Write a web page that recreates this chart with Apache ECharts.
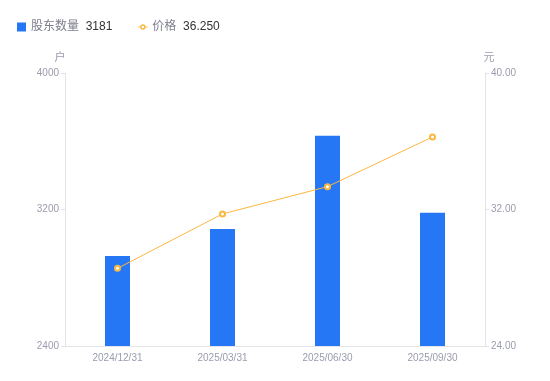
<!DOCTYPE html>
<html><head><meta charset="utf-8">
<script src="https://cdn.jsdelivr.net/npm/echarts@6/dist/echarts.min.js"></script>
<style>html,body{margin:0;padding:0;background:#fff}#c{width:550px;height:381px}</style>
</head><body><div id="c"></div>
<script>
const categories = ['2024/12/31','2025/03/31','2025/06/30','2025/09/30'];
const holders = [2928, 3086, 3632, 3181];
const prices = [28.55, 31.74, 33.34, 36.25];
const leftTicks = {min: 2400, max: 4000, interval: 800};
const rightTicks = {min: 24, max: 40, interval: 8};

const chart = echarts.init(document.getElementById('c'));
const lastVals = {'股东数量': String(holders[holders.length-1]), '价格': prices[prices.length-1].toFixed(3)};
const axisLabelColor = '#9a9cae';
const axisLineColor = '#e3e4ea';
const font = 'Liberation Sans, Arial, Noto Sans CJK SC, sans-serif';
const lineIcon = 'path://M0,8 L4,8 L4,10 L0,10 Z M14,8 L18,8 L18,10 L14,10 Z M3.5,9 A5.5,5.5 0 1,0 14.5,9 A5.5,5.5 0 1,0 3.5,9 Z M6.5,9 A2.5,2.5 0 1,1 11.5,9 A2.5,2.5 0 1,1 6.5,9 Z';
chart.setOption({
  animation: false,
  textStyle: {fontFamily: font},
  legend: {
    left: 12, top: 16, itemWidth: 9, itemHeight: 9, itemGap: 26,
    textStyle: {color: '#333', fontSize: 12, fontFamily: font,
      rich: {n: {color: '#7c7e8c', fontSize: 12, fontFamily: font}, v: {color: '#333', fontSize: 12, fontFamily: font}}},
    formatter: n => '{n|' + n + '}  {v|' + lastVals[n] + '}',
    data: [{name: '股东数量', icon: 'rect'}, {name: '价格', icon: lineIcon}]
  },
  grid: {left: 65, right: 65, top: 73, bottom: 35},
  xAxis: {
    type: 'category', data: categories,
    axisLine: {lineStyle: {color: axisLineColor}},
    axisTick: {show: false},
    axisLabel: {color: axisLabelColor, fontSize: 10, margin: 7}
  },
  yAxis: [{
    type: 'value', name: '户', min: leftTicks.min, max: leftTicks.max, interval: leftTicks.interval,
    nameTextStyle: {color: axisLabelColor, fontSize: 11, padding: [0, 10, 0, 0]},
    nameGap: 10,
    axisLine: {show: true, lineStyle: {color: axisLineColor}},
    axisTick: {show: true, length: 4, lineStyle: {color: axisLineColor}},
    axisLabel: {color: axisLabelColor, fontSize: 10, margin: 6, formatter: v => String(v)},
    splitLine: {show: false}
  }, {
    type: 'value', name: '元', min: rightTicks.min, max: rightTicks.max, interval: rightTicks.interval,
    nameTextStyle: {color: axisLabelColor, fontSize: 11, padding: [0, 0, 0, 8]},
    nameGap: 10,
    axisLine: {show: true, lineStyle: {color: axisLineColor}},
    axisTick: {show: true, length: 4, lineStyle: {color: axisLineColor}},
    axisLabel: {color: axisLabelColor, fontSize: 10, margin: 6, formatter: v => v.toFixed(2)},
    splitLine: {show: false}
  }],
  series: [{
    name: '股东数量', type: 'bar', data: holders, barWidth: 25, yAxisIndex: 0,
    itemStyle: {color: '#2677f5'}
  }, {
    name: '价格', type: 'line', data: prices, yAxisIndex: 1,
    symbol: 'emptyCircle', symbolSize: 5,
    lineStyle: {color: '#fbb740', width: 1},
    itemStyle: {color: '#fbb740', borderWidth: 1.5}
  }]
});
</script></body></html>
